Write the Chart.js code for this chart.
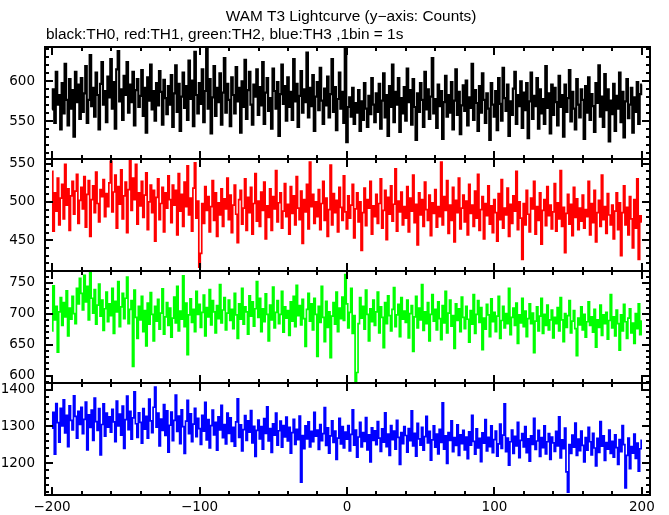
<!DOCTYPE html>
<html lang="en">
<head>
<meta charset="utf-8">
<title>WAM T3 Lightcurve</title>
<script src="https://cdn.jsdelivr.net/npm/chart.js@4.4.1/dist/chart.umd.min.js"></script>
<style>
  * { margin: 0; padding: 0; }
  body { background: #fff; width: 669px; height: 515px; overflow: hidden; }
</style>
</head>
<body>
<canvas id="lc" width="669" height="515"></canvas>
<script>
// counts per 1 s bin, from t = -200 s to t = +200 s
const th0 = [
  565, 590, 548, 612, 571, 583, 540, 598, 560, 622, 577, 545, 603, 566, 589, 531, 612, 574, 596, 553,
  604, 562, 585, 619, 548, 577, 633, 569, 592, 556, 611, 583, 540, 597, 624, 571, 588, 549, 606, 580,
  628, 566, 599, 541, 615, 638, 575, 590, 552, 607, 583, 624, 561, 596, 574, 612, 545, 589, 603, 568,
  582, 614, 557, 592, 536, 605, 576, 621, 565, 588, 551, 598, 570, 613, 587, 546, 602, 579, 559, 594,
  571, 608, 543, 585, 620, 562, 597, 538, 581, 611, 567, 594, 552, 626, 578, 601, 544, 637, 583, 560,
  598, 572, 615, 549, 588, 641, 566, 603, 535, 580, 619, 557, 592, 574, 610, 546, 586, 629, 561, 597,
  577, 544, 605, 583, 560, 618, 575, 592, 536, 600, 568, 627, 553, 589, 612, 571, 546, 596, 581, 615,
  558, 593, 570, 624, 547, 586, 604, 563, 579, 541, 616, 588, 566, 599, 532, 584, 621, 572, 594, 551,
  605, 568, 587, 552, 628, 575, 597, 543, 582, 613, 561, 590, 574, 636, 555, 592, 569, 608, 538, 581,
  599, 564, 617, 576, 547, 591, 570, 606, 555, 584, 628, 562, 593, 539, 578, 611, 566, 587, 548, 642,
  524, 568, 580, 556, 592, 547, 573, 561, 589, 538, 575, 552, 598, 566, 543, 582, 559, 604, 571, 549,
  585, 562, 597, 541, 576, 610, 555, 583, 532, 594, 568, 621, 549, 587, 571, 604, 537, 579, 560, 593,
  551, 616, 574, 589, 546, 603, 568, 527, 585, 562, 598, 577, 543, 612, 565, 590, 553, 581, 629, 560,
  578, 542, 596, 569, 588, 528, 574, 607, 556, 583, 561, 599, 540, 576, 615, 558, 587, 534, 570, 595,
  563, 601, 545, 580, 567, 622, 552, 589, 573, 538, 594, 561, 610, 577, 548, 585, 566, 527, 598, 571,
  556, 588, 539, 604, 572, 551, 617, 579, 563, 596, 532, 575, 558, 591, 612, 547, 583, 569, 600, 542,
  586, 564, 598, 529, 575, 611, 553, 582, 569, 604, 541, 590, 560, 578, 547, 619, 567, 585, 535, 596,
  558, 592, 574, 545, 607, 568, 583, 531, 596, 562, 579, 614, 550, 587, 566, 540, 603, 571, 555, 590,
  577, 528, 594, 561, 605, 552, 584, 569, 537, 598, 573, 620, 556, 581, 543, 609, 564, 590, 525, 576,
  559, 597, 538, 582, 566, 611, 549, 587, 530, 575, 603, 554, 571, 592, 536, 580, 562, 599, 547, 584,
  596
];
const th1 = [
  540, 462, 512, 488, 531, 470, 505, 523, 478, 549, 496, 517, 463, 508, 527, 484, 514, 536, 472, 502,
  519, 491, 533, 467, 510, 528, 455, 503, 521, 486, 539, 498, 474, 516, 507, 529, 481, 511, 494, 525,
  553, 487, 513, 535, 466, 520, 497, 542, 478, 508, 526, 460, 516, 554, 489, 531, 503, 549, 471, 512,
  495, 527, 480, 509, 538, 464, 500, 522, 486, 515, 449, 506, 530, 477, 498, 519, 461, 512, 492, 534,
  503, 473, 522, 496, 515, 457, 537, 488, 510, 468, 526, 494, 547, 483, 505, 462, 518, 551, 479, 501,
  415, 433, 498, 472, 520, 489, 507, 461, 494, 528, 476, 512, 455, 499, 483, 517, 468, 504, 491, 531,
  477, 509, 460, 496, 522, 484, 447, 503, 515, 471, 492, 530, 463, 506, 486, 519, 458, 498, 537, 475,
  501, 468, 513, 489, 526, 452, 495, 480, 517, 463, 507, 491, 541, 474, 499, 512, 466, 488, 524, 481,
  497, 458, 520, 485, 508, 470, 533, 492, 477, 514, 446, 503, 487, 523, 465, 552, 494, 510, 472, 500,
  481, 516, 464, 498, 527, 476, 505, 455, 490, 548, 470, 511, 486, 502, 461, 519, 493, 476, 534, 487,
  465, 508, 479, 496, 523, 453, 491, 512, 474, 500, 437, 486, 518, 469, 503, 492, 527, 458, 495, 481,
  510, 472, 498, 530, 466, 489, 515, 451, 506, 484, 521, 475, 497, 543, 462, 501, 487, 513, 470, 494,
  479, 520, 461, 505, 488, 535, 473, 497, 444, 512, 483, 503, 468, 526, 490, 476, 509, 456, 499, 485,
  516, 467, 494, 481, 552, 470, 507, 489, 528, 459, 496, 476, 519, 448, 502, 486, 531, 465, 492, 509,
  474, 501, 457, 523, 485, 496, 468, 514, 479, 536, 463, 490, 507, 452, 498, 482, 521, 471, 495, 460,
  503, 486, 449, 511, 477, 529, 466, 492, 483, 518, 455, 497, 472, 508, 488, 540, 464, 500, 479, 425,
  498, 470, 515, 484, 461, 505, 491, 527, 458, 494, 476, 512, 445, 489, 503, 469, 520, 482, 496, 465,
  487, 524, 462, 499, 478, 541, 468, 493, 434, 485, 510, 471, 497, 456, 519, 480, 504, 464, 492, 475,
  509, 466, 490, 481, 527, 457, 498, 473, 515, 448, 486, 502, 468, 535, 477, 494, 459, 511, 483, 470,
  496, 452, 488, 512, 464, 499, 430, 486, 521, 470, 493, 457, 507, 478, 440, 503, 466, 530, 425, 482,
  474
];
const th2 = [
  672, 745, 690, 712, 638, 703, 726, 681, 718, 695, 737, 664, 709, 691, 728, 700, 684, 741, 716, 757,
  733, 706, 762, 719, 744, 690, 767, 725, 701, 739, 683, 714, 748, 696, 722, 673, 708, 735, 687, 716,
  697, 741, 668, 720, 703, 752, 679, 711, 733, 692, 725, 759, 684, 707, 721, 615, 738, 694, 660, 712,
  690, 728, 671, 705, 648, 717, 683, 734, 699, 656, 712, 688, 723, 675, 701, 740, 667, 695, 718, 681,
  709, 662, 693, 727, 685, 744, 672, 704, 691, 761, 679, 717, 634, 698, 724, 686, 707, 671, 736, 699,
  715, 678, 702, 730, 664, 710, 695, 739, 682, 721, 703, 669, 713, 692, 747, 685, 706, 726, 674, 701,
  722, 689, 707, 676, 733, 698, 660, 716, 691, 741, 683, 711, 703, 667, 729, 696, 719, 680, 708, 752,
  694, 725, 671, 708, 687, 732, 699, 656, 714, 690, 743, 677, 702, 721, 684, 699, 736, 670, 711, 693,
  705, 665, 719, 688, 728, 679, 746, 697, 713, 682, 723, 692, 647, 707, 733, 688, 716, 674, 725, 699,
  631, 712, 686, 744, 694, 655, 720, 678, 703, 629, 696, 718, 683, 735, 671, 709, 692, 727, 689, 763,
  716, 677, 702, 741, 668, 697, 589, 605, 684, 726, 693, 712, 675, 738, 699, 656, 708, 687, 722, 681,
  703, 735, 669, 711, 694, 645, 718, 684, 729, 697, 672, 707, 742, 679, 698, 715, 663, 726, 691, 704,
  686, 722, 661, 700, 713, 639, 695, 728, 677, 709, 690, 747, 673, 703, 684, 718, 656, 699, 731, 688,
  707, 674, 719, 692, 658, 713, 685, 736, 669, 701, 722, 680, 697, 644, 716, 689, 708, 671, 727, 694,
  676, 712, 691, 654, 705, 683, 731, 668, 699, 721, 686, 710, 642, 693, 675, 715, 698, 663, 724, 687,
  702, 671, 696, 728, 660, 689, 712, 677, 700, 684, 741, 666, 694, 709, 681, 717, 652, 698, 685, 725,
  679, 704, 663, 692, 716, 684, 701, 637, 688, 711, 672, 696, 725, 668, 699, 681, 714, 674, 690, 706,
  661, 694, 684, 710, 672, 726, 690, 655, 700, 678, 697, 721, 669, 688, 705, 676, 632, 693, 682, 711,
  674, 699, 662, 687, 719, 681, 695, 670, 707, 646, 690, 678, 714, 665, 698, 684, 702, 659, 689, 731,
  677, 695, 664, 706, 684, 641, 698, 672, 715, 687, 660, 693, 708, 669, 685, 652, 700, 676, 716, 666,
  688
];
const th3 = [
  1295, 1338, 1224, 1362, 1310, 1257, 1349, 1301, 1372, 1282, 1330, 1245, 1356, 1316, 1290, 1383, 1327, 1268, 1341, 1305,
  1352, 1280, 1319, 1366, 1236, 1331, 1297, 1344, 1262, 1377, 1313, 1289, 1348, 1222, 1305, 1361, 1273, 1336, 1298, 1326,
  1284, 1346, 1312, 1258, 1369, 1301, 1333, 1276, 1355, 1240, 1318, 1382, 1291, 1341, 1265, 1323, 1394, 1307, 1270, 1337,
  1311, 1254, 1348, 1292, 1327, 1268, 1374, 1315, 1283, 1352, 1407, 1298, 1336, 1247, 1320, 1289, 1359, 1275, 1342, 1230,
  1303, 1339, 1261, 1316, 1385, 1286, 1328, 1253, 1345, 1299, 1226, 1314, 1371, 1280, 1334, 1258, 1306, 1349, 1272, 1322,
  1294, 1251, 1330, 1287, 1365, 1263, 1318, 1241, 1302, 1344, 1277, 1311, 1235, 1326, 1290, 1357, 1269, 1305, 1252, 1336,
  1281, 1323, 1259, 1297, 1246, 1312, 1375, 1270, 1304, 1233, 1291, 1329, 1262, 1315, 1284, 1343, 1255, 1300, 1218, 1289,
  1317, 1266, 1299, 1238, 1321, 1281, 1353, 1260, 1294, 1229, 1307, 1276, 1336, 1249, 1288, 1314, 1243, 1302, 1271, 1325,
  1260, 1297, 1227, 1283, 1319, 1251, 1292, 1264, 1328, 1148, 1275, 1239, 1301, 1266, 1312, 1244, 1286, 1258, 1338, 1273,
  1290, 1237, 1305, 1261, 1280, 1351, 1248, 1296, 1227, 1274, 1315, 1256, 1287, 1210, 1268, 1322, 1252, 1299, 1241, 1284,
  1265, 1302, 1233, 1278, 1345, 1249, 1290, 1216, 1271, 1311, 1244, 1283, 1259, 1324, 1236, 1277, 1203, 1296, 1262, 1288,
  1250, 1313, 1268, 1232, 1293, 1257, 1337, 1245, 1279, 1221, 1302, 1264, 1287, 1238, 1316, 1270, 1196, 1283, 1253, 1299,
  1275, 1230, 1294, 1261, 1342, 1247, 1281, 1219, 1308, 1266, 1249, 1297, 1235, 1272, 1327, 1255, 1286, 1208, 1263, 1301,
  1243, 1279, 1225, 1292, 1256, 1364, 1238, 1274, 1199, 1283, 1262, 1315, 1231, 1269, 1248, 1304, 1221, 1277, 1253, 1289,
  1236, 1271, 1212, 1285, 1249, 1330, 1259, 1224, 1293, 1241, 1267, 1204, 1282, 1254, 1318, 1233, 1270, 1245, 1301, 1228,
  1264, 1287, 1219, 1252, 1306, 1240, 1276, 1361, 1231, 1268, 1194, 1258, 1290, 1226, 1273, 1247, 1311, 1215, 1262, 1280,
  1244, 1299, 1228, 1266, 1205, 1274, 1251, 1322, 1237, 1260, 1289, 1218, 1269, 1242, 1301, 1225, 1258, 1280, 1210, 1271,
  1255, 1232, 1286, 1247, 1326, 1214, 1263, 1239, 1295, 1176, 1121, 1250, 1226, 1276, 1243, 1309, 1221, 1265, 1234, 1287,
  1248, 1203, 1269, 1235, 1297, 1258, 1222, 1281, 1241, 1192, 1267, 1229, 1313, 1246, 1274, 1207, 1256, 1238, 1290, 1226,
  1259, 1216, 1277, 1242, 1196, 1264, 1231, 1302, 1250, 1132, 1221, 1268, 1185, 1245, 1227, 1279, 1213, 1254, 1178, 1239,
  1262
];

const startTime = -200;   // time of first bin (s), 1 bin = 1 s
const xTicks = [-200, -100, 0, 100, 200];
const yTicks = [
  [550, 600],
  [450, 500, 550],
  [600, 650, 700, 750],
  [1200, 1300, 1400]
];

const series = [th0, th1, th2, th3];
const lineColors = ['#000000', '#ff0000', '#00ff00', '#0000ff'];
const lineWidths = [2.2, 1.7, 1.7, 1.7];
const yLimits = [[503, 643], [410, 556], [588, 769], [1113, 1418]];
const yMinorStep = [10, 10, 10, 20];
const xMinorStep = 20;

const tickFont = { family: '"DejaVu Sans", sans-serif', size: 13.5 };

const times = th0.map((_, i) => startTime + i);

const scales = {
  x: {
    type: 'linear',
    min: -204.8,
    max: 205.5,
    grid: { display: false, drawTicks: false },
    border: { display: false },
    afterBuildTicks: s => { s.ticks = xTicks.map(v => ({ value: v })); },
    afterFit: s => { s.height = 20; },
    ticks: {
      padding: 4,
      font: tickFont,
      color: '#000',
      maxRotation: 0,
      autoSkip: false,
      callback: v => v < 0 ? '\u2212' + Math.abs(v) : String(v)
    }
  }
};
series.forEach((_, i) => {
  scales['y' + i] = {
    type: 'linear',
    position: 'left',
    stack: 'panels',
    stackWeight: 1,
    weight: 4 - i,
    min: yLimits[i][0],
    max: yLimits[i][1],
    grid: { display: false, drawTicks: false },
    border: { display: false },
    afterBuildTicks: s => { s.ticks = yTicks[i].map(v => ({ value: v })); },
    afterFit: s => { s.width = 45; },
    ticks: { padding: 10, font: tickFont, color: '#000', callback: v => String(v) }
  };
});

// frames + inward tick marks for every panel, plus the two title lines
const panelFrames = {
  id: 'panelFrames',
  afterDatasetsDraw(chart) {
    const ctx = chart.ctx;
    const xs = chart.scales.x;
    const seg = (x0, y0, x1, y1) => {
      ctx.beginPath(); ctx.moveTo(x0, y0); ctx.lineTo(x1, y1); ctx.stroke();
    };
    ctx.save();
    ctx.strokeStyle = '#000';
    series.forEach((_, i) => {
      const ys = chart.scales['y' + i];
      const top = ys.top, bottom = ys.bottom, left = xs.left, right = xs.right;
      ctx.lineWidth = 2;
      for (let v = -200; v <= 200; v += xMinorStep) {
        const px = Math.round(xs.getPixelForValue(v));
        const len = xTicks.includes(v) ? 8 : 4;
        seg(px, top, px, top + len);
        seg(px, bottom, px, bottom - len);
      }
      const step = yMinorStep[i];
      for (let v = Math.ceil(ys.min / step) * step; v <= ys.max; v += step) {
        const py = Math.round(ys.getPixelForValue(v));
        const len = yTicks[i].includes(v) ? 8 : 4;
        seg(left, py, left + len, py);
        seg(right, py, right - len, py);
      }
      ctx.strokeRect(left, top, right - left, bottom - top);
    });
    // title lines, slightly widened to match the original plot font
    ctx.fillStyle = '#000';
    ctx.textBaseline = 'middle';
    ctx.font = '14px "Liberation Sans", Arial, sans-serif';
    ctx.save();
    ctx.scale(1.1, 1);
    ctx.textAlign = 'center';
    ctx.fillText('WAM T3 Lightcurve (y\u2212axis: Counts)', 351 / 1.1, 17);
    ctx.textAlign = 'left';
    ctx.fillText('black:TH0, red:TH1, green:TH2, blue:TH3 ,1bin = 1s', 46 / 1.1, 35);
    ctx.restore();
    ctx.restore();
  }
};

new Chart(document.getElementById('lc'), {
  type: 'line',
  data: {
    datasets: series.map((s, i) => ({
      data: times.map((t, k) => ({ x: t, y: s[k] })),
      xAxisID: 'x',
      yAxisID: 'y' + i,
      borderColor: lineColors[i],
      borderWidth: lineWidths[i],
      pointRadius: 0,
      stepped: 'middle',
      fill: false
    }))
  },
  options: {
    responsive: false,
    animation: false,
    events: [],
    layout: { padding: { top: 47, right: 19, bottom: 0, left: 0 } },
    plugins: { legend: { display: false }, tooltip: { enabled: false } },
    scales: scales
  },
  plugins: [panelFrames]
});
</script>
</body>
</html>
